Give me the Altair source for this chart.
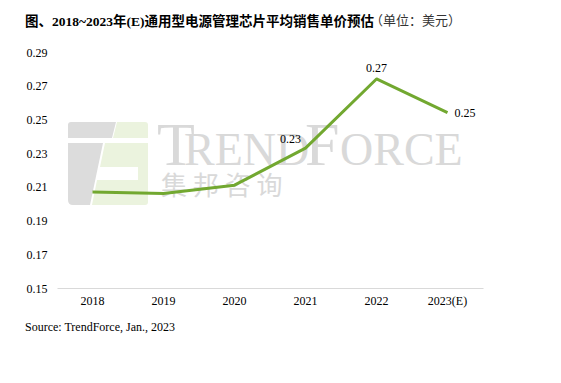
import altair as alt
import pandas as pd

years = ["2018", "2019", "2020", "2021", "2022", "2023(E)"]
prices = [0.207, 0.206, 0.211, 0.233, 0.274, 0.254]
labels = ["", "", "", "0.23", "0.27", "0.25"]
y_ticks = [0.15, 0.17, 0.19, 0.21, 0.23, 0.25, 0.27, 0.29]

title_main = "图、2018~2023年(E)通用型电源管理芯片平均销售单价预估"
title_unit = "（单位：美元）"
source_text = "Source: TrendForce, Jan., 2023"

df = pd.DataFrame({"year": years, "price": prices, "label": labels})
one = alt.Data(values=[{"k": 1}])

SERIF = "Liberation Serif, Times New Roman, Noto Sans CJK SC"
W, H = 426, 236

x_enc = alt.X("year:O", sort=years, title=None,
              scale=alt.Scale(type="band", paddingInner=0, paddingOuter=0),
              axis=alt.Axis(labelAngle=0, ticks=False, domain=True, domainColor="#d9d9d9",
                            domainWidth=1, labelFont=SERIF, labelFontSize=12,
                            labelColor="#000000", labelPadding=7, grid=False,
                            labelOverlap=False))
y_enc = alt.Y("price:Q", title=None,
              scale=alt.Scale(domain=[0.15, 0.29], nice=False, zero=False),
              axis=alt.Axis(values=y_ticks, format=".2f", ticks=False, domain=False, grid=False,
                            labelFont=SERIF, labelFontSize=12, labelColor="#000000",
                            labelPadding=10, labelOverlap=False, labelBound=False))

base = alt.Chart(df)

# watermark logo shapes (pixel paths, size=4 -> unit scale)
gray_path = ("M11,73 Q11,70 14,70 L59,70 L55,86 L11,86 Z "
             "M11,91 L46,91 L33,153 L16,153 Q11,153 11,148 Z")
green_path = ("M60,70 L88,70 Q91,70 91,73 L91,86 L56,86 Z "
              "M48,91 L91,91 L91,150 Q91,153 88,153 L35,153 L40,128 L81,128 L81,115 L43,115 Z")

logo_gray = alt.Chart(one).mark_point(shape=gray_path, size=4, filled=True, opacity=1,
                                      color="#dcdcdc", strokeWidth=0).encode(
    x=alt.value(0), y=alt.value(0))
logo_green = alt.Chart(one).mark_point(shape=green_path, size=4, filled=True, opacity=1,
                                       color="#ebf3de", strokeWidth=0).encode(
    x=alt.value(0), y=alt.value(0))

wm_color = "#d9d9d9"
wm_T = alt.Chart(one).mark_text(text="T", font=SERIF, fontSize=62, align="left",
                                baseline="alphabetic", color=wm_color).encode(
    x=alt.value(100), y=alt.value(113))
wm_REND = alt.Chart(one).mark_text(text="REND", font=SERIF, fontSize=46, align="left",
                                   baseline="alphabetic", color=wm_color).encode(
    x=alt.value(127), y=alt.value(113))
wm_F = alt.Chart(one).mark_text(text="F", font=SERIF, fontSize=62, align="left",
                                baseline="alphabetic", color=wm_color).encode(
    x=alt.value(248), y=alt.value(113))
wm_ORCE = alt.Chart(one).mark_text(text="ORCE", font=SERIF, fontSize=46, align="left",
                                   baseline="alphabetic", color=wm_color).encode(
    x=alt.value(283), y=alt.value(113))
wm_cn = alt.Chart(one).mark_text(text="集 邦 咨 询", font="Noto Sans CJK SC", fontSize=26,
                                 align="left", baseline="middle", color=wm_color).encode(
    x=alt.value(104), y=alt.value(135))

line = base.mark_line(color="#72a830", strokeWidth=3, interpolate="linear",
                      strokeJoin="round").encode(x=x_enc, y=y_enc)

lab_2021 = base.transform_filter(alt.datum.year == "2021").mark_text(
    font=SERIF, fontSize=12, color="#000000", dx=-15, dy=-9, align="center").encode(
    x=x_enc, y=y_enc, text="label:N")
lab_2022 = base.transform_filter(alt.datum.year == "2022").mark_text(
    font=SERIF, fontSize=12, color="#000000", dy=-11, align="center").encode(
    x=x_enc, y=y_enc, text="label:N")
lab_2023 = base.transform_filter(alt.datum.year == "2023(E)").mark_text(
    font=SERIF, fontSize=12, color="#000000", dx=7, align="left", baseline="middle").encode(
    x=x_enc, y=y_enc, text="label:N")

t_main = alt.Chart(one).mark_text(text=title_main, font=SERIF, fontSize=13.5, fontWeight="bold",
                                  align="left", baseline="alphabetic", color="#000000").encode(
    x=alt.value(-32), y=alt.value(-26))
t_unit = alt.Chart(one).mark_text(text=title_unit, font="Noto Sans CJK SC", fontSize=13,
                                  align="left", baseline="alphabetic", color="#333333").encode(
    x=alt.value(313), y=alt.value(-27))
src = alt.Chart(one).mark_text(text=source_text, font=SERIF, fontSize=12, align="left",
                               baseline="alphabetic", color="#000000").encode(
    x=alt.value(-32), y=alt.value(279))

chart = alt.layer(
    logo_gray, logo_green, wm_T, wm_REND, wm_F, wm_ORCE, wm_cn,
    line, lab_2021, lab_2022, lab_2023, t_main, t_unit, src
).properties(
    width=W, height=H,
    background="#ffffff",
    autosize=alt.AutoSizeParams(type="none"),
    padding={"left": 49, "top": 44, "right": 70, "bottom": 87},
).configure_view(stroke=None).configure_axis(labelOverlap=False)

chart.save("out.html", embed_options={"renderer": "svg", "actions": False})
